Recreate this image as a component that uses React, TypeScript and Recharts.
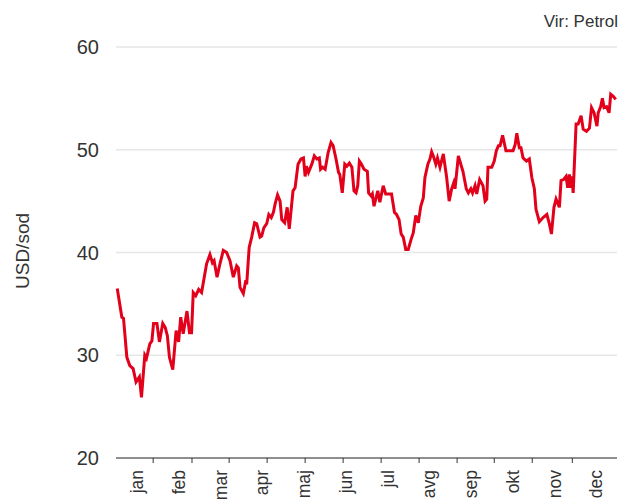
import React from "react";
import {
  LineChart,
  Line,
  XAxis,
  YAxis,
  CartesianGrid,
} from "recharts";

// x position in months from 1 Jan (0 = start of jan, 12 = end of dec)
const monthPos = [
  0.03, 0.14, 0.18, 0.26, 0.33, 0.41, 0.48, 0.56, 0.61, 0.69, 0.73, 0.81, 0.86,
  0.9, 0.98, 1.04, 1.12, 1.18, 1.23, 1.28, 1.36, 1.44, 1.5, 1.55, 1.61, 1.7,
  1.76, 1.81, 1.85, 1.91, 1.98, 2.05, 2.17, 2.25, 2.31, 2.35, 2.42, 2.49, 2.57,
  2.65, 2.73, 2.81, 2.89, 2.93, 2.97, 3.05, 3.11, 3.13, 3.19, 3.25, 3.32, 3.37,
  3.45, 3.49, 3.54, 3.61, 3.66, 3.72, 3.77, 3.81, 3.87, 3.93, 3.97, 4.04, 4.1,
  4.15, 4.24, 4.29, 4.36, 4.43, 4.49, 4.53, 4.56, 4.61, 4.69, 4.75, 4.81, 4.87,
  4.9, 4.95, 5.01, 5.08, 5.15, 5.2, 5.27, 5.33, 5.36, 5.42, 5.48, 5.53, 5.59,
  5.65, 5.7, 5.75, 5.79, 5.83, 5.88, 5.94, 6.02, 6.05, 6.11, 6.14, 6.18, 6.27,
  6.32, 6.4, 6.46, 6.54, 6.6, 6.67, 6.72, 6.78, 6.83, 6.88, 6.94, 7.0, 7.07,
  7.12, 7.18, 7.24, 7.3, 7.36, 7.4, 7.47, 7.52, 7.56, 7.6, 7.66, 7.7, 7.76,
  7.84, 7.92, 7.98, 8.04, 8.09, 8.12, 8.2, 8.28, 8.31, 8.39, 8.44, 8.5, 8.54,
  8.6, 8.64, 8.71, 8.79, 8.84, 8.88, 8.91, 9.0, 9.06, 9.11, 9.16, 9.2,
  9.26, 9.34, 9.42, 9.51, 9.56, 9.6, 9.66, 9.7, 9.75, 9.83, 9.9,
  9.96, 10.02, 10.06, 10.14, 10.23, 10.32, 10.38, 10.43, 10.49, 10.54, 10.62,
  10.66, 10.72, 10.78, 10.82, 10.86, 10.89, 10.92, 10.95, 11.02, 11.07, 11.14,
  11.19, 11.27, 11.34, 11.39, 11.45, 11.52, 11.55, 11.61, 11.65, 11.69, 11.75,
  11.81, 11.85, 11.91, 11.97,
];

// USD/sod
const price = [
  36.5, 33.7, 33.6, 29.8, 29.0, 28.7, 27.4, 27.9, 25.9, 30.0, 29.7, 31.1, 31.4,
  33.1, 33.1, 31.3, 33.1, 32.7, 31.9, 29.8, 28.6, 32.4, 31.3, 33.7, 32.1, 34.3,
  32.2, 32.2, 36.1, 35.8, 36.4, 36.1, 38.9, 39.8, 39.0, 39.2, 37.6, 38.9, 40.2,
  40.0, 39.2, 37.6, 38.7, 38.5, 36.6, 36.0, 37.3, 36.9, 40.5, 41.5, 42.9, 42.8,
  41.5, 41.6, 42.4, 42.8, 43.7, 43.4, 43.9, 44.7, 45.6, 45.0, 43.2, 42.9, 44.4,
  42.3, 46.0, 46.3, 48.6, 49.1, 49.2, 47.4, 48.4, 47.8, 48.6, 49.4, 49.1, 49.2,
  48.1, 48.3, 48.1, 49.7, 50.7, 50.4, 49.1, 47.8, 47.6, 45.8, 48.6, 48.4, 48.7,
  48.3, 46.0, 45.8, 46.5, 48.9, 48.6, 48.1, 47.9, 45.8, 45.5, 45.7, 44.5, 46.0,
  44.9, 46.5, 45.7, 45.7, 45.7, 43.9, 43.7, 43.2, 41.8, 41.5, 40.3, 40.3, 41.3,
  41.9, 43.6, 42.9, 44.5, 45.3, 47.3, 48.6, 49.1, 49.8, 49.4, 48.6, 49.2, 48.3,
  49.6, 47.3, 45.0, 46.2, 46.8, 46.2, 49.4, 48.3, 47.9, 46.2, 45.8, 46.2, 45.8,
  46.5, 45.7, 47.1, 46.5, 45.0, 45.2, 48.3, 48.3, 48.9, 49.9, 50.4, 50.4,
  51.4, 49.9, 49.9, 49.9, 50.5, 51.6, 50.2, 50.2, 49.2, 48.9, 49.1,
  47.3, 46.2, 44.2, 43.0, 43.4, 43.7, 42.8, 41.8, 44.4, 45.2, 44.4,
  47.0, 47.1, 47.4, 46.3, 47.6, 46.3, 47.4, 45.8, 52.5, 52.5, 53.3,
  52.0, 51.8, 52.1, 54.1, 53.6, 52.3, 53.6, 54.2, 55.0, 54.1, 54.2,
  53.6, 55.4, 55.2, 54.9,
];

const months = ["jan", "feb", "mar", "apr", "maj", "jun", "jul", "avg", "sep", "okt", "nov", "dec"];
const yTicks = [20, 30, 40, 50, 60];
// tick marks on the x axis (every ~19 trading days)
const tickMarks = [0.89, 1.82, 2.71, 3.62, 4.53, 5.44, 6.35, 7.26, 8.17, 9.06, 9.97, 10.93];

const data = monthPos.map((t, i) => ({ t, price: price[i] }));

const labelPos = months.map((_, i) => i + 0.5);
const xTicks = [...tickMarks, ...labelPos].sort((a, b) => a - b);

const W = 621;
const H = 503;
const LEFT = 116;
const RIGHT = 4;
const FONT = "'Liberation Sans', Arial, sans-serif";

const MonthTick = (props: any) => {
  const { x, y, payload } = props;
  const idx = labelPos.indexOf(payload.value);
  if (idx < 0) {
    return <line x1={x} x2={x} y1={y} y2={y + 5} stroke="#333" />;
  }
  return (
    <g transform={`translate(${x},${y + 12})`}>
      <text
        transform="rotate(-90)"
        textAnchor="end"
        dy="0.35em"
        fontSize={17.5}
        fill="#333"
        fontFamily={FONT}
      >
        {months[idx]}
      </text>
    </g>
  );
};

export default function App() {
  return (
    <div style={{ position: "absolute", left: 0, top: 0, width: W, height: H }}>
      <LineChart
        width={W}
        height={H}
        data={data}
        margin={{ top: 47, right: RIGHT, bottom: 0, left: 0 }}
      >
        <CartesianGrid vertical={false} stroke="#e6e6e6" strokeWidth={1.5} />
        <XAxis
          dataKey="t"
          type="number"
          domain={[0, 12]}
          ticks={xTicks}
          interval={0}
          height={45}
          tickSize={0}
          tickMargin={0}
          axisLine={{ stroke: "#333" }}
          tickLine={false}
          tick={<MonthTick />}
        />
        <YAxis
          type="number"
          domain={[20, 60]}
          ticks={yTicks}
          width={LEFT}
          axisLine={false}
          tickLine={false}
          tickSize={0}
          tickMargin={17}
          tick={{ fontSize: 20, fill: "#333", fontFamily: FONT }}
        />
        <Line
          type="linear"
          dataKey="price"
          stroke="#e2001a"
          strokeWidth={3}
          dot={false}
          isAnimationActive={false}
        />
      </LineChart>
      <svg
        width={W}
        height={H}
        style={{ position: "absolute", left: 0, top: 0, pointerEvents: "none" }}
      >
        <text
          x={22}
          y={251}
          transform="rotate(-90, 22, 251)"
          textAnchor="middle"
          dominantBaseline="central"
          fontSize={19}
          fill="#333"
          fontFamily={FONT}
        >
          USD/sod
        </text>
        <text
          x={618}
          y={27}
          textAnchor="end"
          fontSize={17}
          fill="#333"
          fontFamily={FONT}
        >
          Vir: Petrol
        </text>
      </svg>
    </div>
  );
}
